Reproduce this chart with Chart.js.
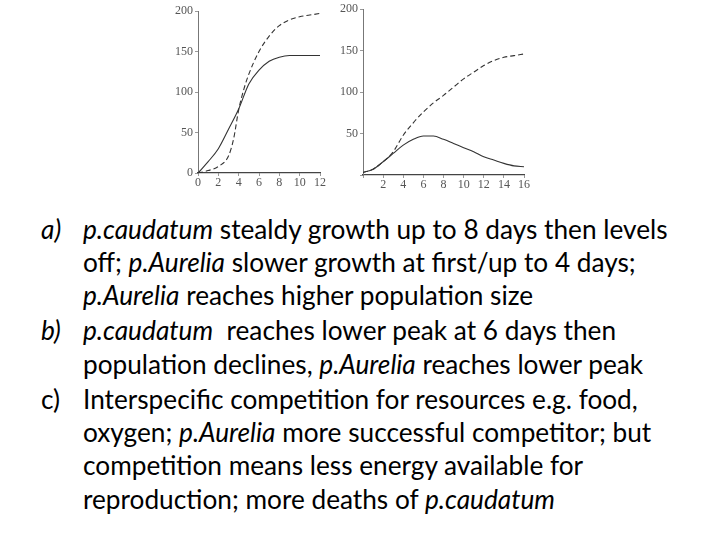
<!DOCTYPE html>
<html>
<head>
<meta charset="utf-8">
<script src="https://cdn.jsdelivr.net/npm/chart.js@4/dist/chart.umd.min.js"></script>
<style>
  body { margin: 0; background: #fff; width: 720px; height: 540px; overflow: hidden; position: relative; }
  canvas { position: absolute; }
  #left { left: 170px; top: 0; }
  #right { left: 335px; top: 0; }
  .ln { position: absolute; white-space: nowrap; font-family: Lato, "Open Sans", sans-serif; font-size: 26px; color: #000; line-height: 30px; }
  .lbl { left: 41px; }
  .txt { left: 83px; }
</style>
</head>
<body>
<canvas id="left" width="160" height="195"></canvas>
<canvas id="right" width="200" height="195"></canvas>

<div class="ln lbl" style="top:214px"><i>a)</i></div>
<div class="ln txt" id="first" style="top:214px"><i>p.caudatum</i> stealdy growth up to 8 days then levels</div>
<div class="ln txt" style="top:247px">off; <i>p.Aurelia</i> slower growth at first/up to 4 days;</div>
<div class="ln txt" style="top:280px"><i>p.Aurelia</i> reaches higher population size</div>
<div class="ln lbl" style="top:315px"><i>b)</i></div>
<div class="ln txt" style="top:315px"><i>p.caudatum</i>&nbsp; reaches lower peak at 6 days then</div>
<div class="ln txt" style="top:349px">population declines, <i>p.Aurelia</i> reaches lower peak</div>
<div class="ln lbl" style="top:384px">c)</div>
<div class="ln txt" style="top:384px">Interspecific competition for resources e.g. food,</div>
<div class="ln txt" style="top:417px">oxygen; <i>p.Aurelia</i> more successful competitor; but</div>
<div class="ln txt" style="top:450px">competition means less energy available for</div>
<div class="ln txt" style="top:484px">reproduction; more deaths of <i>p.caudatum</i></div>

<script>
// grown separately (left graph)
const caudatumAloneDays = [0, 1, 2, 3, 4, 5, 6, 7, 8, 9, 10, 11, 12];
const caudatumAlone = [0, 14, 30, 54, 79, 110, 127, 138, 143, 145, 145, 145, 145];
const aureliaAloneDays = [0, 1, 2, 3, 3.5, 4, 4.5, 5, 6, 7, 8, 9, 10, 11, 12];
const aureliaAlone = [0, 3, 8, 21, 42, 78, 103, 122, 150, 169, 182, 189, 193, 195, 197];

// grown together (right graph)
const mixedDays = [0, 1, 2, 3, 4, 5, 6, 7, 8, 9, 10, 11, 12, 13, 14, 15, 16];
const caudatumMixed = [3, 7, 16, 26, 36, 43, 47, 47, 43, 38, 33, 28, 22, 18, 14, 11, 10];
const aureliaMixed = [3, 7, 16, 28, 48, 63, 76, 87, 96, 106, 116, 124, 132, 138, 142, 144, 146];

const yTicks = [0, 50, 100, 150, 200];
const leftXTicks = [0, 2, 4, 6, 8, 10, 12];
const rightXTicks = [0, 2, 4, 6, 8, 10, 12, 14, 16];

// fit the answer text to the width of the original first line
const first = document.getElementById('first');
const w = first.getBoundingClientRect().width;
const fs = 26 * (585 / w);
document.querySelectorAll('.ln').forEach(el => el.style.fontSize = fs + 'px');

const tickFont = { family: 'Liberation Serif', size: 12 };
const inkColor = '#333';

function pts(xs, ys) {
  return xs.map((x, i) => ({ x: x, y: ys[i] }));
}

function lineSet(xs, ys, dashed) {
  return {
    data: pts(xs, ys),
    borderColor: inkColor,
    borderWidth: 1.1,
    borderDash: dashed ? [5, 3] : [],
    pointRadius: 0,
    cubicInterpolationMode: 'monotone',
    fill: false
  };
}

function makeOptions(xMax, xTicks, showZero, topPad, xHeight, rightPad) {
  return {
    responsive: false,
    animation: false,
    layout: { padding: { top: topPad, right: rightPad, left: 0, bottom: 0 } },
    plugins: { legend: { display: false }, tooltip: { enabled: false } },
    scales: {
      x: {
        type: 'linear',
        min: 0,
        max: xMax,
        afterBuildTicks: s => { s.ticks = xTicks.map(v => ({ value: v })); },
        afterFit: s => { s.height = xHeight; },
        ticks: {
          font: tickFont,
          color: '#555',
          padding: 0,
          callback: v => (v === 0 && !showZero) ? '' : v
        },
        grid: { drawOnChartArea: false, tickLength: 3, color: '#999' },
        border: { color: '#444', width: 1.2 }
      },
      y: {
        min: 0,
        max: 200,
        afterBuildTicks: s => { s.ticks = yTicks.map(v => ({ value: v })); },
        afterFit: s => { s.width = 28; },
        ticks: {
          font: tickFont,
          color: '#555',
          padding: 2,
          callback: v => (v === 0 && !showZero) ? '' : v
        },
        grid: { drawOnChartArea: false, tickLength: 3, color: '#999' },
        border: { color: '#777', width: 1 }
      }
    }
  };
}

const leftChart = new Chart(document.getElementById('left'), {
  type: 'line',
  data: {
    datasets: [
      lineSet(caudatumAloneDays, caudatumAlone, false),
      lineSet(aureliaAloneDays, aureliaAlone, true)
    ]
  },
  options: makeOptions(12, leftXTicks, true, 11, 22, 10)
});

const rightChart = new Chart(document.getElementById('right'), {
  type: 'line',
  data: {
    datasets: [
      lineSet(mixedDays, caudatumMixed, false),
      lineSet(mixedDays, aureliaMixed, true)
    ]
  },
  options: makeOptions(16, rightXTicks, false, 9, 20, 11)
});
</script>
</body>
</html>
